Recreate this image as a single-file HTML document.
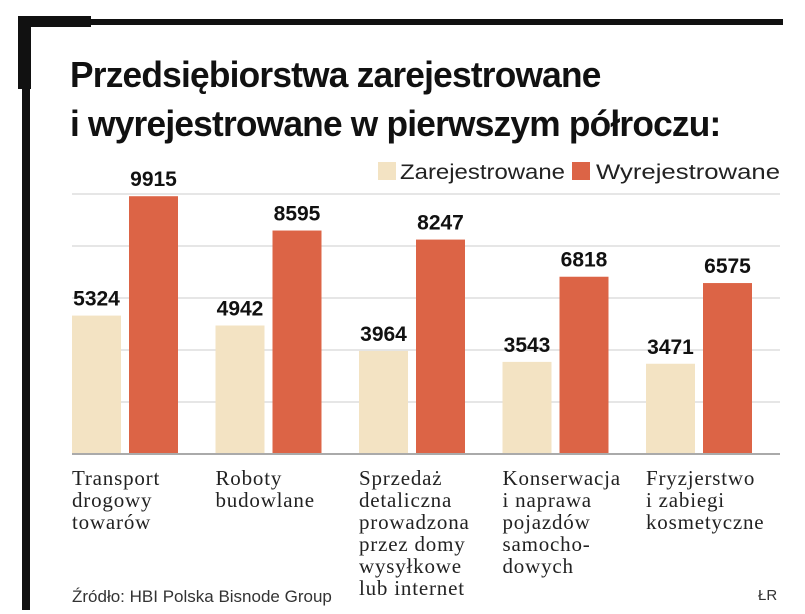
<!DOCTYPE html>
<html><head><meta charset="utf-8">
<style>
body{margin:0;background:#fff;width:805px;height:614px;overflow:hidden;position:relative;font-family:"Liberation Sans",sans-serif}
.t{position:absolute;left:70px;font-weight:bold;font-size:36px;letter-spacing:-0.8px;color:#111;transform:scaleX(0.98);transform-origin:left;white-space:nowrap}
</style></head><body>
<div style="position:absolute;left:18px;top:19px;width:765px;height:6px;background:#111"></div>
<div style="position:absolute;left:18px;top:16px;width:73px;height:11px;background:#111"></div>
<div style="position:absolute;left:18px;top:16px;width:13px;height:73px;background:#111"></div>
<div style="position:absolute;left:22px;top:16px;width:8px;height:594px;background:#111"></div>
<div class="t" style="top:54px">Przedsiębiorstwa zarejestrowane</div>
<div class="t" style="top:103px">i wyrejestrowane w pierwszym półroczu:</div>
<svg id="c" width="805" height="614" style="position:absolute;left:0;top:0"></svg>
<div style="position:absolute;left:72px;top:587px;font-size:17px;color:#333">Źródło: HBI Polska Bisnode Group</div>
<div style="position:absolute;left:758px;top:587px;font-size:15px;color:#333">ŁR</div>
<script>
const categories=[["Transport","drogowy","towarów"],["Roboty","budowlane"],["Sprzedaż","detaliczna","prowadzona","przez domy","wysyłkowe","lub internet"],["Konserwacja","i naprawa","pojazdów","samocho-","dowych"],["Fryzjerstwo","i zabiegi","kosmetyczne"]];
const registered=[5324,4942,3964,3543,3471];
const deregistered=[9915,8595,8247,6818,6575];
const ticks=[0,2000,4000,6000,8000,10000];
const seriesNames=["Zarejestrowane","Wyrejestrowane"];
const colors=["#f3e3c3","#dc6446"];
const svg=document.getElementById('c');const NS="http://www.w3.org/2000/svg";
const y0=454,ymax=10000,h=260;
const y=v=>y0-v/ymax*h;
const gx=i=>72+i*143.5;
function mk(t,a){const e=document.createElementNS(NS,t);for(const k in a)e.setAttribute(k,a[k]);svg.appendChild(e);return e;}
ticks.forEach(t=>{const l=mk('line',{x1:72,x2:780,y1:y(t),y2:y(t),stroke:t?'#ccc':'#aaa','stroke-width':t?1:2});

});
categories.forEach((c,i)=>{
 [registered[i],deregistered[i]].forEach((v,s)=>{
  const x=gx(i)+s*57;
  const r=mk('rect',{x:x,y:y(v),width:49,height:y0-y(v)-1,fill:colors[s]});
  
  
  const t=mk('text',{x:x+24.5,y:y(v)-10,'text-anchor':'middle','font-size':21,'font-weight':'bold',fill:'#111','font-family':'Liberation Sans'});
  t.textContent=v;
  
  
 });
 c.forEach((ln,j)=>{const t=mk('text',{x:gx(i),y:485+j*22,'font-size':21,'letter-spacing':0.8,fill:'#222','font-family':'Liberation Serif'});t.textContent=ln;
  
  });
});
[[378,400,165],[572,596,184]].forEach((p,s)=>{
 const r=mk('rect',{x:p[0],y:162,width:18,height:18,fill:colors[s]});
 
 
 const t=mk('text',{x:p[1],y:179,'font-size':21,textLength:p[2],lengthAdjust:'spacingAndGlyphs',fill:'#222','font-family':'Liberation Sans'});t.textContent=seriesNames[s];
 
 
});
</script>
</body></html>
